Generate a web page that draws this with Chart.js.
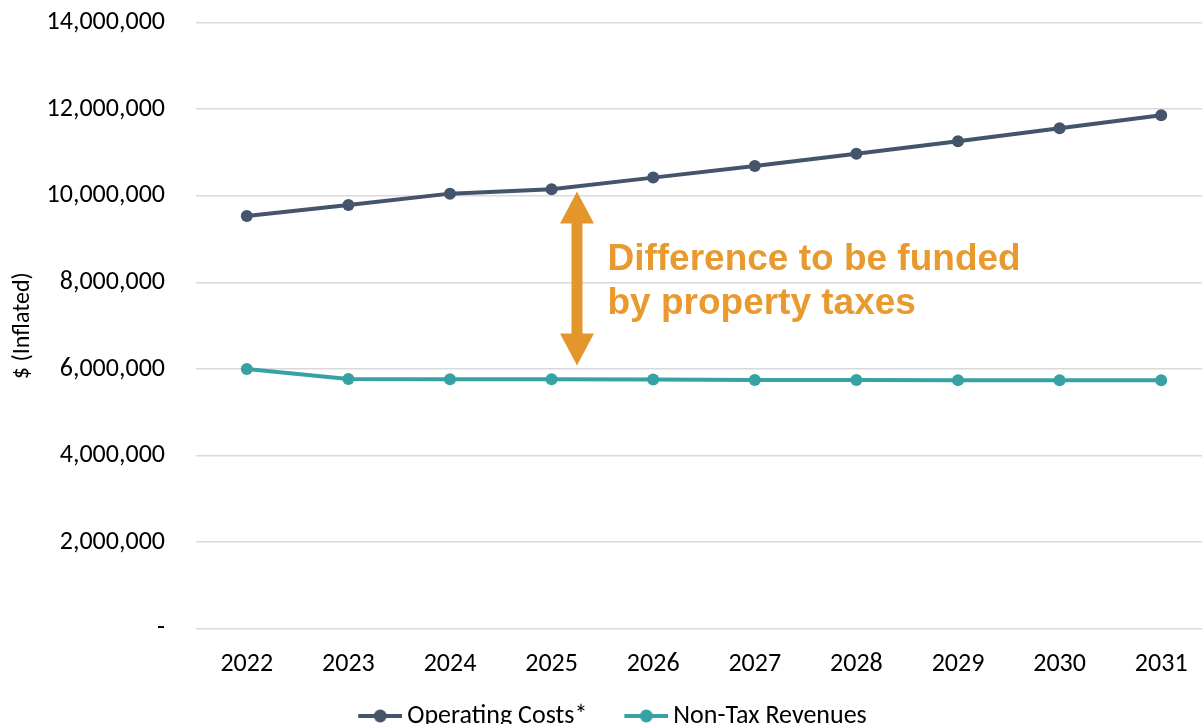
<!DOCTYPE html>
<html>
<head>
<meta charset="utf-8">
<script src="https://cdn.jsdelivr.net/npm/chart.js@4"></script>
<style>
  html, body { margin: 0; padding: 0; background: #fff; overflow: hidden; }
  #wrap { width: 1218px; height: 763px; position: relative; top: -24px; }
</style>
</head>
<body>
<div id="wrap"><canvas id="lineChart"></canvas></div>
<script>
// ======================= DATA =======================
const years = ["2022", "2023", "2024", "2025", "2026", "2027", "2028", "2029", "2030", "2031"];
const operatingCosts = [9535000, 9790000, 10050000, 10150000, 10420000, 10690000, 10970000, 11260000, 11560000, 11860000];
const nonTaxRevenues = [6000000, 5770000, 5765000, 5765000, 5755000, 5748000, 5746000, 5743000, 5740000, 5740000];
const yTicks = [0, 2000000, 4000000, 6000000, 8000000, 10000000, 12000000, 14000000];

const noteLines = ["Difference to be funded", "by property taxes"];

const darkSlate = "#44546A";
const teal = "#36A2A4";
const orange = "#E3962B";
const font = "Carlito, Lato, sans-serif";

// legend marker: short line with a dot, on the right part of a wider canvas
function legendMarker(color) {
  const c = document.createElement("canvas");
  c.width = 78;
  c.height = 16;
  const g = c.getContext("2d");
  g.strokeStyle = color;
  g.lineWidth = 4;
  g.beginPath();
  g.moveTo(34, 8);
  g.lineTo(78, 8);
  g.stroke();
  g.fillStyle = color;
  g.beginPath();
  g.arc(56, 8, 6.5, 0, Math.PI * 2);
  g.fill();
  return c;
}

// ======================= ARROW + NOTE =======================
const gapNote = {
  id: "gapNote",
  afterDatasetsDraw(chart) {
    const { ctx, scales } = chart;
    const x = scales.x.getPixelForValue(3.25);
    const top = scales.y.getPixelForValue(10100000);
    const bottom = scales.y.getPixelForValue(6080000);
    const headW = 17, headH = 32, shaft = 5.5;
    ctx.save();
    ctx.fillStyle = orange;
    ctx.beginPath();
    ctx.moveTo(x, top);
    ctx.lineTo(x + headW, top + headH);
    ctx.lineTo(x + shaft, top + headH);
    ctx.lineTo(x + shaft, bottom - headH);
    ctx.lineTo(x + headW, bottom - headH);
    ctx.lineTo(x, bottom);
    ctx.lineTo(x - headW, bottom - headH);
    ctx.lineTo(x - shaft, bottom - headH);
    ctx.lineTo(x - shaft, top + headH);
    ctx.lineTo(x - headW, top + headH);
    ctx.closePath();
    ctx.fill();

    const tx = scales.x.getPixelForValue(3.55);
    const ty = scales.y.getPixelForValue(8280000);
    ctx.fillStyle = "#E89A2F";
    ctx.font = "bold 37px 'Liberation Sans', Arial, sans-serif";
    ctx.textBaseline = "alphabetic";
    ctx.textAlign = "left";
    noteLines.forEach((t, i) => ctx.fillText(t, tx, ty + i * 44));
    ctx.restore();
  },
};

// ======================= LINE CHART =======================
new Chart(document.getElementById("lineChart"), {
  type: "line",
  data: {
    labels: years,
    datasets: [
      {
        label: "Operating Costs*",
        data: operatingCosts,
        borderColor: darkSlate,
        backgroundColor: darkSlate,
        borderWidth: 4,
        pointRadius: 6,
        pointBackgroundColor: darkSlate,
        pointBorderWidth: 0,
        tension: 0,
      },
      {
        label: "Non-Tax Revenues",
        data: nonTaxRevenues,
        borderColor: teal,
        backgroundColor: teal,
        borderWidth: 4,
        pointRadius: 6,
        pointBackgroundColor: teal,
        pointBorderWidth: 0,
        tension: 0,
      },
    ],
  },
  options: {
    responsive: true,
    maintainAspectRatio: false,
    animation: false,
    layout: { padding: { left: -16, right: 3, top: 8, bottom: 0 } },
    scales: {
      x: {
        offset: true,
        grid: { display: false },
        border: { display: false },
        ticks: { color: "#000", padding: 12, font: { family: font, size: 26 } },
      },
      y: {
        min: 0,
        max: 14000000,
        afterBuildTicks: (s) => { s.ticks = yTicks.map((v) => ({ value: v })); },
        afterFit: (s) => { s.width = 212; },
        grid: { color: "#D9D9D9", lineWidth: 1.5, drawTicks: false },
        border: { display: false },
        ticks: {
          color: "#000",
          padding: 31,
          font: { family: font, size: 26 },
          callback: (v) => (v === 0 ? "-" : v.toLocaleString("en-US")),
        },
        title: {
          display: true,
          text: "$ (Inflated)",
          color: "#000",
          padding: { top: 25, bottom: 0 },
          font: { family: font, size: 24 },
        },
      },
    },
    plugins: {
      legend: {
        position: "bottom",
        labels: {
          color: "#000",
          font: { family: font, size: 26 },
          usePointStyle: true,
          pointStyleWidth: 62,
          boxHeight: 16,
          padding: 11,
          generateLabels: (chart) =>
            Chart.defaults.plugins.legend.labels.generateLabels(chart).map((item, i) => {
              item.pointStyle = legendMarker(i === 0 ? darkSlate : teal);
              return item;
            }),
        },
      },
      tooltip: { enabled: false },
    },
  },
  plugins: [gapNote],
});
</script>
</body>
</html>
